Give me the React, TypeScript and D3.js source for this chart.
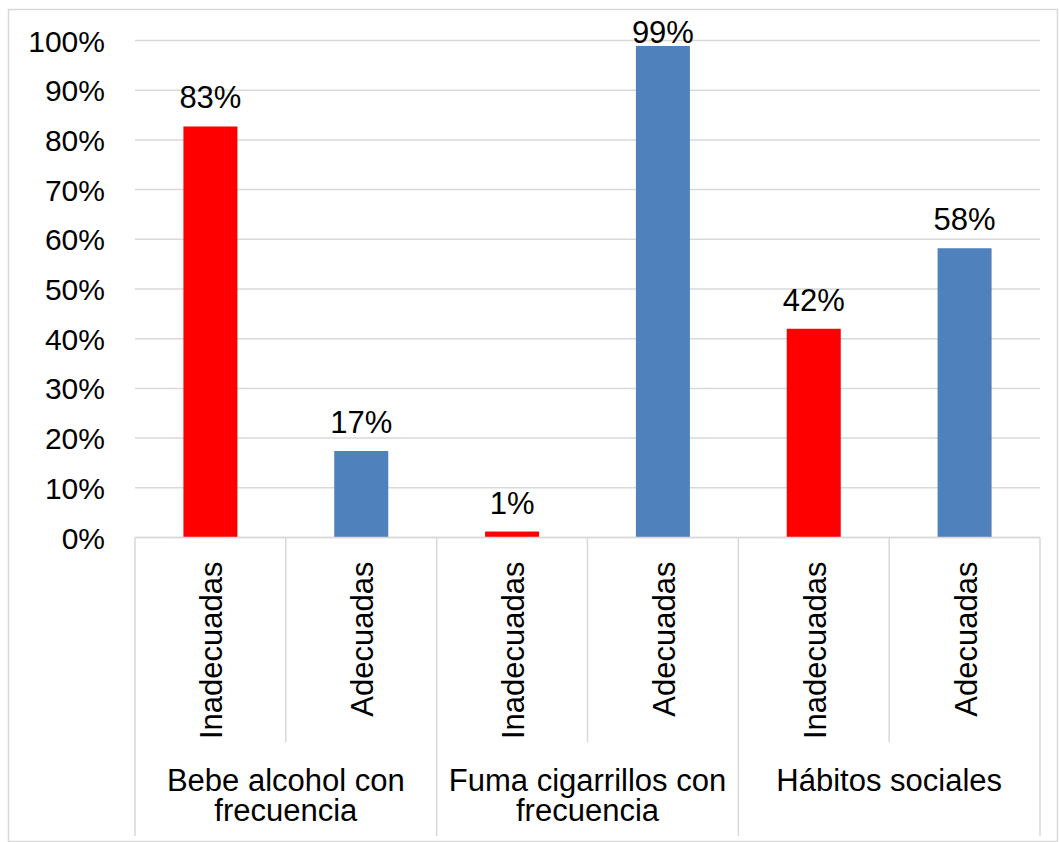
import * as d3 from 'd3';

const groupLines: string[][] = [
  ['Bebe alcohol con', 'frecuencia'],
  ['Fuma cigarrillos con', 'frecuencia'],
  ['Hábitos sociales'],
];
const subLabels = ['Inadecuadas', 'Adecuadas'];
const inadecuadas = [82.7, 1.2, 42.0];
const adecuadas = [17.4, 98.9, 58.2];
const yTicks = [0, 10, 20, 30, 40, 50, 60, 70, 80, 90, 100];

const W = 1059;
const H = 842;
const FONT = '"Liberation Sans", Arial, sans-serif';
const GRID = '#d9d9d9';
const RED = '#ff0000';
const BLUE = '#4f81bd';

type Bar = { key: string; group: number; sub: number; value: number };

const bars: Bar[] = [];
groupLines.forEach((_, gi) => {
  bars.push({ key: `${gi}-0`, group: gi, sub: 0, value: inadecuadas[gi] });
  bars.push({ key: `${gi}-1`, group: gi, sub: 1, value: adecuadas[gi] });
});

export default function App() {
  const left = 135;
  const right = 1040;
  const top = 40.5;
  const bottom = 537.5;

  const x = d3.scaleBand<string>().domain(bars.map(b => b.key)).range([left, right]).padding(0);
  const groupX = d3.scaleBand<number>().domain(groupLines.map((_, i) => i)).range([left, right]).padding(0);
  const y = d3.scaleLinear().domain([0, 100]).range([bottom, top]);
  const bw = x.bandwidth() * 0.358;

  return (
    <svg width={W} height={H} style={{ position: 'fixed', left: 0, top: 0, background: '#fff' }}
      fontFamily={FONT}>
      <rect x={8.5} y={9.5} width={1049} height={832} fill="#fff" stroke={GRID} strokeWidth={1.5} />

      {/* grid lines */}
      {yTicks.map(t => (
        <line key={t} x1={left} x2={right} y1={y(t)} y2={y(t)} stroke={GRID} strokeWidth={1.5} />
      ))}

      {/* y tick labels */}
      {yTicks.map(t => (
        <text key={'l' + t} x={105} y={y(t) + 11} textAnchor="end" fontSize={30} fill="#000">
          {t}%
        </text>
      ))}

      {/* category separators */}
      {d3.range(bars.length + 1).map(i => {
        const xx = i < bars.length ? x(bars[i].key)! : right;
        const isGroup = i % 2 === 0;
        return (
          <line key={'s' + i} x1={xx} x2={xx} y1={bottom} y2={isGroup ? 836 : 742}
            stroke={GRID} strokeWidth={1.5} />
        );
      })}

      {/* bars */}
      {bars.map(b => {
        const cx = x(b.key)! + x.bandwidth() / 2;
        const yTop = y(b.value);
        return (
          <g key={b.key}>
            <rect x={cx - bw / 2} y={yTop} width={bw} height={bottom - yTop}
              fill={b.sub === 0 ? RED : BLUE} />
            <text x={cx} y={Math.max(yTop - 18, 43)} textAnchor="middle" fontSize={31} fill="#000">
              {Math.round(b.value)}%
            </text>
            <text transform={`translate(${cx + 12},561.5) rotate(-90)`} textAnchor="end"
              fontSize={31} fill="#000">
              {subLabels[b.sub]}
            </text>
          </g>
        );
      })}

      {/* group labels */}
      {groupLines.map((lines, gi) => {
        const cx = groupX(gi)! + groupX.bandwidth() / 2;
        return (
          <text key={'g' + gi} x={cx} y={791} textAnchor="middle" fontSize={31} fill="#000">
            {lines.map((ln, li) => (
              <tspan key={li} x={cx} dy={li === 0 ? 0 : 30}>{ln}</tspan>
            ))}
          </text>
        );
      })}

      <line x1={left} x2={right} y1={bottom} y2={bottom} stroke={GRID} strokeWidth={1.5} />
    </svg>
  );
}
